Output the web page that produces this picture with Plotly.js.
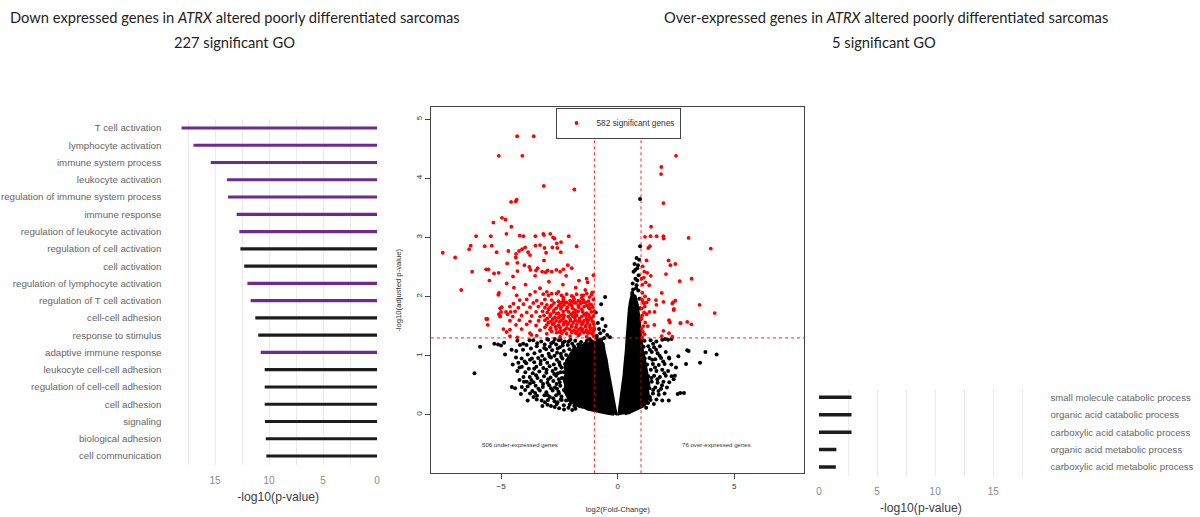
<!DOCTYPE html>
<html><head><meta charset="utf-8">
<script src="https://cdn.plot.ly/plotly-3.0.1.min.js"></script>
<style>html,body{margin:0;padding:0;background:#fff}#chart{width:1200px;height:517px}</style>
</head><body><div id="chart"></div>
<script>
// ---------------- DATA ----------------
const leftTitle = "Down expressed genes in <i>ATRX</i> altered poorly differentiated sarcomas";
const leftSubtitle = "227 significant GO";
const rightTitle = "Over-expressed genes in <i>ATRX</i> altered poorly differentiated sarcomas";
const rightSubtitle = "5 significant GO";

const leftTerms = ["T cell activation","lymphocyte activation","immune system process","leukocyte activation",
  "regulation of immune system process","immune response","regulation of leukocyte activation",
  "regulation of cell activation","cell activation","regulation of lymphocyte activation",
  "regulation of T cell activation","cell-cell adhesion","response to stimulus","adaptive immune response",
  "leukocyte cell-cell adhesion","regulation of cell-cell adhesion","cell adhesion","signaling",
  "biological adhesion","cell communication"];
const leftValues = [18.1,17.0,15.4,13.9,13.8,13.0,12.75,12.65,12.3,12.0,11.7,11.27,11.0,10.77,10.4,10.4,10.4,10.37,10.3,10.25];
const leftImmune = [1,1,1,1,1,1,1,0,0,1,1,0,0,1,0,0,0,0,0,0];

const rightTerms = ["small molecule catabolic process","organic acid catabolic process",
  "carboxylic acid catabolic process","organic acid metabolic process","carboxylic acid metabolic process"];
const rightValues = [2.8,2.8,2.8,1.5,1.45];

const sigGenes = 582, underGenes = 506, overGenes = 76;
const fcThreshold = 1, pThreshold = 1.3;

// significant genes (log2FC, -log10 adj p)
const redPts = [
[-4.31,4.71],[-3.6,4.71],[-5.1,4.38],[-4.09,4.38],[-3.17,3.87],[-1.86,3.81],[-4.57,3.60],[-4.37,3.61],[-4.33,3.64],
[-4.96,3.33],[-4.81,3.30],[-5.33,3.25],[-4.56,3.18],[-4.77,3.06],[-6.07,3.02],[-5.44,3.02],[-4.2,3.03],[-4.04,3.02],
[-3.53,3.02],[-3.19,3.06],[-3.16,3.04],[-2.89,3.06],[-2.77,3.0],[-2.71,2.98],[-2.1,3.02],[-7.5,2.74],[-6.97,2.66],[-6.37,2.80],
[-6.3,2.86],[-5.7,2.85],[-5.4,2.86],[-6.24,2.42],[-6.71,2.11],[-5.64,2.46],[-5.54,2.46],[-5.5,2.27],[-5.3,2.39],
[-5.1,2.40],[-5.19,2.75],[-4.69,2.77],[-4.37,2.66],[-4.36,2.72],[-4.23,2.77],[-4.1,2.80],[-3.97,2.83],[-3.84,2.75],[-3.76,2.70],
[-3.53,2.86],[-3.33,2.87],[-3.14,2.82],[-3.07,2.74],[-3.16,2.61],[-2.8,2.83],[-2.59,2.82],[-2.44,2.75],[-2.61,2.90],[-2.43,2.92],
[-1.76,2.85],[-4.74,2.56],[-4.49,2.34],[-4.3,2.43],[-4.3,2.57],[-4.0,2.53],[-3.79,2.50],[-3.74,2.45],[-3.54,2.35],
[-3.5,2.44],[-3.43,2.48],[-3.24,2.42],[-3.09,2.41],[-3.0,2.44],[-2.83,2.42],[-2.63,2.45],[-2.47,2.42],[-2.33,2.46],
[-2.14,2.53],[-1.97,2.48],[-2.21,2.35],[-1.66,2.27],[-1.33,2.30],[-1.29,2.24],[-1.04,2.36],[-1.09,2.07],[-1.39,2.11],
[-5.64,1.62],[-5.57,1.52],[-5.09,2.06],[-5.12,2.03],[-5.04,1.80],[-5.0,1.74],[-4.72,1.70],[-4.59,1.74],[-4.76,2.22],
[-5.59,1.62],[-5.09,1.70],[-5.04,1.66],[-4.76,1.40],[-4.3,1.31],[-3.54,2.08],[-3.33,2.14],[-3.04,2.08],[-2.54,2.08],[-2.83,2.05],
[-4.33,2.02],[-1.47,2.02],[-4.9,1.45],[-3.7,1.35],[-4.45,2.15],[-3.95,2.2],[-2.95,2.25],[-2.35,2.2],[-1.8,2.15],
[-3.76,2.03],[-3.19,2.04],[-2.97,2.02],[-2.62,2.05],[-2.41,2.02],[-2.19,2.04],[-1.97,2.01],[-1.76,2.04],[-1.54,2.02],[-1.33,2.05],[-1.12,2.03],
[-2.33,1.98],[-1.9,1.99],[-1.54,1.97],[-1.21,1.99],
[-4.2,1.94],[-3.9,1.95],[-3.47,1.93],[-3.12,1.95],[-2.83,1.94],[-2.54,1.92],[-2.33,1.95],[-2.04,1.93],[-1.87,1.95],[-1.69,1.93],[-1.47,1.94],[-1.26,1.92],[-1.04,1.95],
[-4.47,1.88],[-4.04,1.87],[-3.62,1.89],[-3.26,1.88],[-3.04,1.86],[-2.73,1.89],[-2.47,1.88],[-2.26,1.90],[-2.07,1.87],[-1.79,1.89],[-1.59,1.88],[-1.39,1.90],[-1.19,1.87],
[-2.4,1.90],[-2.3,1.91],[-2.19,1.90],[-1.97,1.91],[-1.86,1.90],[-1.61,1.91],[-1.5,1.90],
[-2.83,1.85],[-2.54,1.84],[-2.3,1.86],[-1.97,1.85],[-1.69,1.84],[-1.33,1.85],[-1.12,1.86],
[-4.97,1.82],[-4.62,1.83],[-4.26,1.81],[-3.76,1.82],[-3.4,1.83],[-3.12,1.81],[-2.9,1.82],[-2.64,1.80],[-2.4,1.83],[-2.16,1.82],[-1.93,1.80],[-1.67,1.82],[-1.44,1.83],[-1.24,1.81],[-1.07,1.82],
[-2.97,1.78],[-2.73,1.77],[-2.44,1.79],[-2.19,1.78],[-1.82,1.77],[-1.54,1.78],[-1.19,1.79],
[-4.79,1.74],[-4.4,1.75],[-3.9,1.73],[-3.5,1.74],[-3.22,1.75],[-3.02,1.73],[-2.76,1.74],[-2.54,1.72],[-2.33,1.75],[-2.1,1.74],[-1.9,1.73],[-1.7,1.75],[-1.5,1.74],[-1.33,1.72],[-1.13,1.74],[-1.0,1.75],
[-2.87,1.70],[-2.62,1.71],[-2.36,1.69],[-2.0,1.70],[-1.82,1.71],[-1.44,1.70],[-1.24,1.69],
[-5.04,1.67],[-4.5,1.66],[-4.12,1.68],[-3.69,1.67],[-3.33,1.66],[-3.16,1.68],[-2.9,1.67],[-2.69,1.65],[-2.47,1.67],[-2.3,1.68],[-2.12,1.66],[-1.93,1.67],[-1.76,1.68],[-1.54,1.66],[-1.36,1.67],[-1.19,1.65],[-1.04,1.67],
[-3.02,1.63],[-2.79,1.62],[-2.54,1.64],[-2.33,1.63],[-2.04,1.62],[-1.84,1.64],[-1.64,1.63],[-1.33,1.62],[-1.13,1.63],
[-4.62,1.59],[-4.22,1.60],[-3.76,1.58],[-3.39,1.59],[-3.12,1.60],[-2.87,1.58],[-2.64,1.59],[-2.42,1.60],[-2.22,1.58],[-2.02,1.59],[-1.82,1.60],[-1.62,1.58],[-1.45,1.59],[-1.26,1.60],[-1.09,1.58],
[-2.97,1.56],[-2.73,1.55],[-2.5,1.57],[-2.3,1.56],[-2.12,1.55],[-1.9,1.56],[-1.7,1.57],[-1.5,1.55],[-1.3,1.56],[-1.04,1.55],
[-4.36,1.52],[-3.9,1.53],[-3.5,1.51],[-3.04,1.52],[-2.79,1.53],[-2.54,1.51],[-2.33,1.52],[-2.16,1.53],[-1.97,1.51],[-1.76,1.52],[-1.54,1.53],[-1.36,1.51],[-1.19,1.52],[-1.02,1.53],
[-3.12,1.48],[-2.87,1.47],[-2.67,1.49],[-2.47,1.48],[-2.19,1.47],[-1.97,1.49],[-1.79,1.48],[-1.59,1.47],[-1.39,1.49],[-1.19,1.48],[-1.02,1.47],
[-4.62,1.44],[-4.12,1.45],[-3.33,1.43],[-2.9,1.44],[-2.64,1.45],[-2.44,1.43],[-2.26,1.44],[-2.07,1.45],[-1.87,1.43],[-1.67,1.44],[-1.5,1.45],[-1.33,1.43],[-1.16,1.44],[-1.0,1.45],
[-2.83,1.41],[-2.5,1.40],[-2.3,1.42],[-1.97,1.41],[-1.76,1.40],[-1.54,1.42],[-1.36,1.41],[-1.21,1.40],[-1.04,1.42],
[-3.76,1.38],[-3.04,1.37],[-2.62,1.39],[-2.4,1.38],[-2.19,1.37],[-1.97,1.39],[-1.79,1.38],[-1.62,1.37],[-1.45,1.39],[-1.27,1.38],[-1.1,1.37],
[-4.62,1.33],[-3.47,1.34],[-2.47,1.32],[-2.04,1.33],[-1.69,1.34],[-1.33,1.32],[-1.04,1.33],
[2.5,4.38],[1.87,4.19],[1.86,4.07],[1.96,3.58],[1.43,3.18],[1.17,3.01],[1.41,3.02],[1.67,3.02],[1.96,3.02],[1.97,2.98],
[3.04,2.99],[1.38,2.85],[1.31,2.82],[3.99,2.81],[2.18,2.61],[2.26,2.53],[2.47,2.55],[1.24,2.61],[1.07,2.51],[1.14,2.42],
[1.27,2.40],[1.42,2.35],[2.07,2.38],[3.17,2.30],[1.2,2.24],[1.35,2.19],[2.66,2.26],[3.51,1.86],[4.16,1.72],[1.06,2.06],
[1.17,2.0],[1.08,1.91],[1.13,1.88],[1.33,1.95],[1.64,1.94],[1.66,1.86],[1.96,1.91],[2.34,1.88],[2.47,1.93],[1.03,1.80],
[1.36,1.74],[1.58,1.74],[1.13,1.73],[2.40,1.77],[2.2,1.6],[2.24,1.56],[2.68,1.55],[2.98,1.57],[3.16,1.53],[1.57,1.52],
[1.18,1.56],[1.29,1.50],[1.10,1.50],[1.96,1.42],[2.2,1.38],[2.34,1.32],[1.89,1.33],[1.08,1.40],[1.15,1.36],[1.05,1.31],
[1.89,2.06],[2.37,1.90],[2.41,1.79],[1.24,1.90],[1.16,1.83],[2.70,1.55],[1.24,1.70],[1.03,1.45],[1.02,1.62],[1.04,1.95],
[1.06,2.2],[1.02,2.3],[1.12,2.32],[1.05,1.68]
];

// non-significant genes, sparse part of the cloud
const blackPts = [
[-3.62,1.26],[-3.28,1.24],[-2.98,1.27],[-2.76,1.23],[-2.52,1.26],[-2.27,1.24],[-2.03,1.27],[-1.82,1.25],[-1.57,1.23],[-1.31,1.26],[-1.12,1.24],
[-3.91,1.18],[-3.47,1.16],[-3.13,1.19],[-2.91,1.15],[-2.64,1.19],[-2.36,1.17],[-2.14,1.18],[-1.88,1.16],[-1.69,1.19],[-1.45,1.17],
[-4.06,1.1],[-3.72,1.12],[-3.33,1.08],[-3.07,1.11],[-2.81,1.09],[-2.57,1.12],[-2.31,1.08],[-2.07,1.11],[-1.86,1.07],
[-3.86,1.02],[-3.57,1.04],[-3.24,1.0],[-2.96,1.03],[-2.71,1.0],[-2.44,1.03],[-2.21,1.01],[-2.02,0.99],
[-4.12,0.95],[-3.76,0.93],[-3.41,0.96],[-3.13,0.94],[-2.86,0.97],[-2.61,0.93],[-2.37,0.95],[-2.16,0.92],
[-3.92,0.87],[-3.58,0.89],[-3.31,0.86],[-3.02,0.88],[-2.74,0.85],[-2.51,0.89],[-2.26,0.86],
[-4.21,0.8],[-3.81,0.78],[-3.49,0.81],[-3.19,0.79],[-2.92,0.82],[-2.66,0.78],[-2.41,0.8],[-2.17,0.77],
[-3.96,0.72],[-3.64,0.7],[-3.36,0.73],[-3.06,0.71],[-2.79,0.74],[-2.56,0.7],[-2.31,0.72],
[-3.77,0.64],[-3.44,0.62],[-3.16,0.65],[-2.88,0.63],[-2.64,0.66],[-2.39,0.62],[-2.16,0.64],
[-4.02,0.56],[-3.61,0.55],[-3.29,0.57],[-3.01,0.54],[-2.76,0.57],[-2.49,0.55],[-2.24,0.56],
[-3.86,0.48],[-3.52,0.49],[-3.21,0.47],[-2.94,0.5],[-2.69,0.46],[-2.46,0.49],[-2.21,0.47],
[-3.66,0.4],[-3.34,0.41],[-3.06,0.38],[-2.79,0.41],[-2.54,0.39],[-2.31,0.42],[-2.06,0.4],
[-3.46,0.32],[-3.14,0.33],[-2.91,0.3],[-2.64,0.33],[-2.41,0.31],[-2.16,0.34],[-1.96,0.31],
[-3.26,0.24],[-2.99,0.25],[-2.71,0.23],[-2.44,0.26],[-2.21,0.24],[-2.01,0.22],
[-3.01,0.17],[-2.61,0.18],[-2.31,0.16],[-2.06,0.17],[-1.86,0.15],[-2.51,0.11],[-2.11,0.12],[-1.81,0.1],
[-3.45,1.21],[-3.15,1.13],[-2.85,1.21],[-2.6,1.05],[-2.48,1.14],[-2.92,0.99],[-3.3,0.91],[-2.48,0.84],[-3.05,0.76],
[-2.72,0.69],[-3.5,0.67],[-2.98,0.6],[-2.52,0.6],[-3.2,0.52],[-2.62,0.52],[-2.86,0.45],[-3.4,0.44],[-2.6,0.44],
[-3.0,0.33],[-2.76,0.28],[-2.52,0.36],[-3.12,0.21],[-2.58,0.21],[-2.86,0.15],[-3.58,0.78],[-3.68,0.95],[-3.99,0.9],
[-3.7,0.59],[-3.54,0.37],[-4.35,1.08],[-4.5,0.85],[-4.55,1.1],[-4.15,0.35],[-4.05,1.2],[-2.42,0.98],[-2.44,0.72],
[-2.4,0.25],[-2.35,1.22],[-2.1,1.24],[-2.45,1.27],[-3.78,1.26],[-3.02,1.28],[-2.7,1.28],[-1.95,0.08],[-2.3,0.09],[-2.7,0.13],
[-5.9,1.15],[-6.14,0.70],[-5.29,1.20],[-5.13,1.19],[-5.0,1.17],[-4.87,1.22],[-4.83,1.02],[-4.54,0.47],[-4.4,0.45],
[-3.86,0.24],[-3.23,0.15],[-4.3,1.25],[-4.19,1.18],[-4.36,0.97],[-4.26,0.88],[-4.11,0.81],[-4.3,0.74],[-4.04,0.64],
[-4.21,0.59],[-3.9,0.56],[-4.11,0.47],[-3.97,0.42],[-3.76,0.53],[-3.76,0.36],[-3.61,0.30],[-3.47,0.26],
[-1.95,1.2],[-1.7,1.05],[-1.98,0.9],[-2.05,0.7],[-2.12,0.52],[-2.08,0.36],[-1.75,0.22],[-1.5,0.14],[-1.2,0.1],
[-1.6,1.18],[-1.4,1.2],[-1.2,1.28],[-0.9,1.3],[-0.7,1.27],
[-0.71,1.87],[-0.54,1.99],[-0.94,1.73],[-0.52,1.5],[-0.6,1.42],[-0.75,1.38],[-0.85,1.55],[-0.45,1.35],[-0.66,1.62],
[-0.9,1.33],[-0.58,1.3],[-0.8,1.45],[-0.33,1.31],
[0.96,3.65],[0.96,2.85],[0.81,2.65],[0.87,2.53],[0.84,2.48],[0.9,2.36],[0.84,2.27],[0.81,2.19],[0.79,2.14],[0.72,2.55],
[0.68,2.42],[0.76,2.3],[0.64,2.22],[0.88,2.1],[0.62,2.06],[0.73,2.0],[0.93,1.96],[0.57,1.9],[0.8,1.86],[0.96,1.8],
[0.7,1.78],[0.52,1.72],[0.85,1.7],[0.97,1.62],[0.6,1.95],[0.66,2.12],[0.75,2.45],[0.92,2.62],
[1.15,1.25],[1.41,1.26],[1.66,1.24],[1.91,1.27],[2.03,1.28],[2.16,1.27],[2.31,1.28],
[1.11,1.15],[1.31,1.16],[1.56,1.14],[1.81,1.16],[1.21,1.05],[1.46,1.06],[1.71,1.04],[2.06,1.06],
[1.16,0.95],[1.36,0.96],[1.61,0.94],[1.86,0.96],[2.21,0.95],[1.26,0.85],[1.51,0.86],[1.76,0.84],[2.01,0.86],
[1.17,0.75],[1.42,0.76],[1.66,0.74],[1.91,0.76],[2.16,0.74],[1.31,0.65],[1.56,0.66],[1.81,0.64],[2.06,0.66],[2.31,0.65],
[1.21,0.55],[1.46,0.56],[1.71,0.54],[1.96,0.56],[2.21,0.55],[1.36,0.45],[1.61,0.46],[1.86,0.44],[2.11,0.46],
[1.26,0.35],[1.51,0.36],[1.76,0.34],[2.01,0.36],[1.41,0.25],[1.66,0.26],[1.91,0.24],
[1.38,1.1],[1.52,1.2],[1.6,0.8],[1.45,0.62],[1.52,0.42],[1.38,0.3],[1.48,0.93],[1.7,0.6],[1.8,1.0],[1.95,0.9],
[1.3,0.2],[1.55,0.18],[1.22,0.12],[1.65,1.1],[1.75,0.4],[2.0,0.7],[1.9,0.5],
[2.98,1.09],[3.76,1.06],[4.24,1.02],[2.6,0.99],[2.93,0.86],[3.53,0.88],[2.2,0.97],[2.68,0.37],[2.84,0.37],
[2.57,0.35],[2.19,0.24],[3.04,1.08],[2.4,0.6],[2.45,0.66],[2.3,0.85],[2.5,0.8]
];

// outlines of the saturated (overplotted) core of the cloud
const coreLeftX = [-0.04,-0.12,-0.2,-0.28,-0.36,-0.42,-0.47,-0.55,-0.6,-0.7,-0.76,-0.9,-1.0,-1.12,-1.25,-1.38,-1.5,-1.62,-1.75,-1.85,-1.98,-2.08,-2.2,-2.28,-2.22,-2.32,-2.25,-2.3,-2.18,-2.1,-1.95,-1.8,-1.62,-1.45,-1.3,-1.1,-0.9,-0.7,-0.5,-0.3,-0.15];
const coreLeftY = [-0.01,0.15,0.3,0.48,0.64,0.8,0.93,1.06,1.2,1.24,1.28,1.25,1.22,1.26,1.2,1.23,1.17,1.2,1.12,1.15,1.05,1.0,0.92,0.8,0.7,0.6,0.5,0.4,0.32,0.24,0.2,0.16,0.13,0.12,0.09,0.07,0.05,0.04,0.02,0.01,0.0];
const coreRightX = [0.02,0.08,0.13,0.17,0.21,0.25,0.28,0.32,0.35,0.37,0.39,0.42,0.44,0.48,0.52,0.56,0.62,0.7,0.78,0.86,0.92,0.96,0.99,1.03,1.08,1.14,1.2,1.26,1.32,1.36,1.3,1.34,1.28,1.2,1.1,0.9,0.7,0.5,0.3];
const coreRightY = [-0.01,0.15,0.3,0.42,0.53,0.67,0.81,0.95,1.1,1.24,1.38,1.52,1.66,1.8,1.9,2.0,2.08,2.02,1.98,1.86,1.7,1.55,1.4,1.25,1.1,1.0,0.85,0.75,0.62,0.5,0.42,0.32,0.24,0.18,0.14,0.1,0.06,0.03,0.01];

// ---------------- LAYOUT HELPERS ----------------
const W = 1200, H = 517;
const fx = p => p / W, fy = p => 1 - p / H;
const PURPLE = "#6b2b93", BARBLACK = "#1c1c1c", GRID = "#ebebeb";
const LABEL = "Liberation Sans, Arial, sans-serif";
const TITLEFONT = { family: "Lato, sans-serif", size: 14.7, color: "#222" };

const traces = [
  { type: "bar", orientation: "h", y: leftTerms, x: leftValues, width: 0.18,
    marker: { color: leftImmune.map(v => v ? PURPLE : BARBLACK) },
    xaxis: "x", yaxis: "y", hoverinfo: "skip", showlegend: false },
  { type: "bar", orientation: "h", y: rightTerms, x: rightValues, width: 0.2,
    marker: { color: BARBLACK }, xaxis: "x3", yaxis: "y3", hoverinfo: "skip", showlegend: false },
  { type: "scatter", mode: "lines", x: coreLeftX, y: coreLeftY, fill: "toself", fillcolor: "#000",
    line: { color: "#000", width: 2 }, xaxis: "x2", yaxis: "y2", hoverinfo: "skip", showlegend: false },
  { type: "scatter", mode: "lines", x: coreRightX, y: coreRightY, fill: "toself", fillcolor: "#000",
    line: { color: "#000", width: 2 }, xaxis: "x2", yaxis: "y2", hoverinfo: "skip", showlegend: false },
  { type: "scatter", mode: "markers", x: blackPts.map(p => p[0]), y: blackPts.map(p => p[1]),
    marker: { color: "#000", size: 4 }, xaxis: "x2", yaxis: "y2", hoverinfo: "skip", showlegend: false },
  { type: "scatter", mode: "markers", name: sigGenes + " significant genes",
    x: redPts.map(p => p[0]), y: redPts.map(p => p[1]),
    marker: { color: "#ff0000", size: 3.8 }, xaxis: "x2", yaxis: "y2", hoverinfo: "skip", showlegend: true }
];

const layout = {
  width: W, height: H, margin: { l: 0, r: 0, t: 0, b: 0 },
  paper_bgcolor: "#fff", plot_bgcolor: "#fff",
  font: { family: LABEL, color: "#555" },
  showlegend: true,
  legend: { x: fx(618), xanchor: "center", y: fy(107.5), yanchor: "top", bgcolor: "#fff",
    bordercolor: "#444", borderwidth: 1, font: { size: 8.3, color: "#333", family: LABEL }, itemwidth: 30 },
  xaxis: { domain: [fx(179.4), fx(377)], range: [18.3, 0], anchor: "y", tick0: 0, dtick: 5,
    showgrid: true, gridcolor: GRID, zeroline: false, showline: false, ticks: "",
    minor: { dtick: 2.5, tick0: 0, showgrid: true, gridcolor: GRID },
    tickfont: { size: 10, color: "#8a8a8a" }, ticklabelstandoff: 8,
    title: { text: "-log10(p-value)", font: { size: 12.2, color: "#404040" }, standoff: 7 } },
  yaxis: { domain: [fy(464.6), fy(119.4)], type: "category", range: [19.5, -0.5], anchor: "x",
    showgrid: false, zeroline: false, ticks: "", tickfont: { size: 9.7, color: "#666" }, ticklabelstandoff: 17 },
  xaxis2: { domain: [fx(431.1), fx(804.3)], range: [-8, 8], anchor: "y2", tickvals: [-5, 0, 5],
    ticks: "outside", ticklen: 5, tickcolor: "#444", showgrid: false, zeroline: false,
    showline: true, mirror: true, linecolor: "#444", linewidth: 1,
    tickfont: { size: 8, color: "#333" },
    title: { text: "log2(Fold-Change)", font: { size: 7.7, color: "#333" }, standoff: 16 } },
  yaxis2: { domain: [fy(473.3), fy(107.3)], range: [-0.99, 5.2], anchor: "x2", tickvals: [0, 1, 2, 3, 4, 5],
    tickangle: -90, ticks: "outside", ticklen: 5, tickcolor: "#444", showgrid: false, zeroline: false,
    showline: true, mirror: true, linecolor: "#444", linewidth: 1,
    tickfont: { size: 8, color: "#333" },
    title: { text: "-log10(adjusted p-value)", font: { size: 7.7, color: "#333" }, standoff: 12 } },
  xaxis3: { domain: [fx(818.4), fx(1023.5)], range: [-0.05, 17.6], anchor: "y3", tick0: 0, dtick: 5,
    showgrid: true, gridcolor: GRID, zeroline: false, ticks: "",
    minor: { dtick: 2.5, tick0: 0, showgrid: true, gridcolor: GRID },
    tickfont: { size: 10, color: "#8a8a8a" }, ticklabelstandoff: 8,
    title: { text: "-log10(p-value)", font: { size: 12.2, color: "#404040" }, standoff: 7 } },
  yaxis3: { domain: [fy(475.7), fy(388.6)], type: "category", range: [4.5, -0.5], anchor: "x3", side: "right",
    showgrid: false, zeroline: false, ticks: "", tickfont: { size: 9.6, color: "#666" }, ticklabelstandoff: 26 },
  shapes: [
    { type: "line", xref: "x2", yref: "y2 domain", x0: -fcThreshold, x1: -fcThreshold, y0: 0, y1: 1,
      line: { color: "rgba(255,0,0,0.85)", width: 1, dash: "dot" } },
    { type: "line", xref: "x2", yref: "y2 domain", x0: fcThreshold, x1: fcThreshold, y0: 0, y1: 1,
      line: { color: "rgba(255,0,0,0.85)", width: 1, dash: "dot" } },
    { type: "line", xref: "x2 domain", yref: "y2", x0: 0, x1: 1, y0: pThreshold, y1: pThreshold,
      line: { color: "rgba(255,0,0,0.85)", width: 1, dash: "dot" } }
  ],
  annotations: [
    { xref: "paper", yref: "paper", x: fx(234.5), y: fy(17), xanchor: "center", yanchor: "middle", showarrow: false,
      text: leftTitle, font: TITLEFONT },
    { xref: "paper", yref: "paper", x: fx(234), y: fy(42), xanchor: "center", yanchor: "middle", showarrow: false,
      text: leftSubtitle, font: TITLEFONT },
    { xref: "paper", yref: "paper", x: fx(885.5), y: fy(17), xanchor: "center", yanchor: "middle", showarrow: false,
      text: rightTitle, font: TITLEFONT },
    { xref: "paper", yref: "paper", x: fx(884), y: fy(42), xanchor: "center", yanchor: "middle", showarrow: false,
      text: rightSubtitle, font: TITLEFONT },
    { xref: "x2", yref: "y2", x: -4.2, y: -0.5, showarrow: false, text: underGenes + " under-expressed genes",
      font: { size: 6.1, color: "#333" } },
    { xref: "x2", yref: "y2", x: 4.24, y: -0.5, showarrow: false, text: overGenes + " over-expressed genes",
      font: { size: 6.1, color: "#333" } }
  ]
};

Plotly.newPlot("chart", traces, layout, { displayModeBar: false, staticPlot: true });
</script>
</body></html>
